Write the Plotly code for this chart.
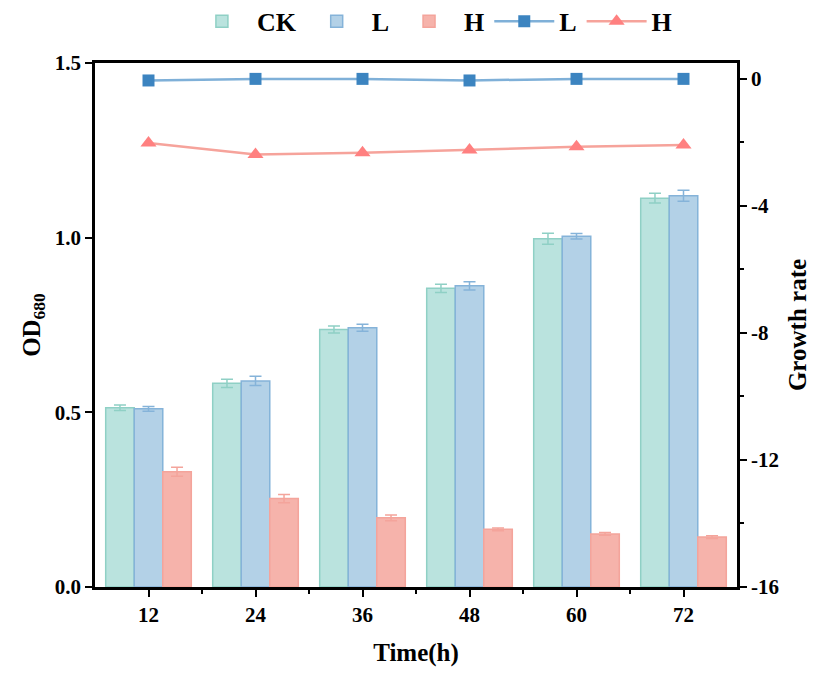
import plotly.graph_objects as go

times = [12, 24, 36, 48, 60, 72]
ck_od = [0.513, 0.583, 0.737, 0.855, 0.997, 1.113]
ck_err = [0.008, 0.012, 0.010, 0.012, 0.016, 0.014]
l_od = [0.510, 0.590, 0.742, 0.862, 1.004, 1.120]
l_err = [0.007, 0.013, 0.010, 0.012, 0.008, 0.016]
h_od = [0.330, 0.253, 0.198, 0.165, 0.152, 0.143]
h_err = [0.013, 0.012, 0.008, 0.004, 0.004, 0.004]
l_rate = [-0.05, 0.0, 0.0, -0.05, 0.0, 0.0]
h_rate = [-2.02, -2.38, -2.33, -2.24, -2.14, -2.08]

FONT = "Liberation Serif"

fig = go.Figure()
bar_specs = [
    ("CK", ck_od, ck_err, "#BAE3DE", "#8FD0C5"),
    ("L", l_od, l_err, "#B3D1E7", "#85B3D9"),
    ("H", h_od, h_err, "#F6B3AB", "#F4A49B"),
]
for name, vals, errs, fill, edge in bar_specs:
    fig.add_trace(go.Bar(
        x=times, y=vals, name=name,
        marker=dict(color=fill, line=dict(color=edge, width=1.5)),
        error_y=dict(type="data", array=errs, color=edge, thickness=1.5, width=6),
        yaxis="y",
    ))

fig.add_trace(go.Scatter(
    x=times, y=l_rate, name="L", mode="lines+markers", yaxis="y2",
    line=dict(color="#7FB0D8", width=2.5),
    marker=dict(symbol="square", size=12, color="#3C84C0"),
))
fig.add_trace(go.Scatter(
    x=times, y=h_rate, name="H", mode="lines+markers", yaxis="y2",
    line=dict(color="#F6A39B", width=2.5),
    marker=dict(symbol="triangle-up", size=14, color="#FF8080"),
))

tickfont = dict(family=FONT, size=21, color="black")
titlefont = dict(family=FONT, size=25, color="black")

fig.update_layout(
    width=809, height=664,
    margin=dict(l=87, r=80, t=55, b=85, autoexpand=False),
    paper_bgcolor="white", plot_bgcolor="white",
    barmode="group", bargap=0.2, bargroupgap=0,
    font=dict(family=FONT, color="black"),
    legend=dict(
        orientation="h", xref="container", x=0.524, xanchor="center",
        yref="container", y=0.98, yanchor="middle",
        font=dict(family=FONT, size=26, color="black", weight="bold"),
        itemwidth=60, traceorder="normal",
    ),
    xaxis=dict(
        range=[6, 78], tickmode="array", tickvals=times,
        ticktext=[f"<b>{t}</b>" for t in times],
        ticks="outside", ticklen=7, tickwidth=2, tickcolor="black",
        minor=dict(tickmode="array", tickvals=[18, 30, 42, 54, 66], ticks="outside", ticklen=4, tickwidth=2, tickcolor="black"),
        showline=True, linecolor="black", linewidth=2.5, mirror=True,
        showgrid=False, zeroline=False, automargin=False,
        tickfont=tickfont,
        title=dict(text="<b>Time(h)</b>", font=titlefont, standoff=18),
    ),
    yaxis=dict(
        range=[0, 1.5], tickmode="array", tickvals=[0, 0.5, 1.0, 1.5],
        ticktext=["<b>0.0</b>", "<b>0.5</b>", "<b>1.0</b>", "<b>1.5</b>"],
        ticks="outside", ticklen=7, tickwidth=2, tickcolor="black",
        showline=True, linecolor="black", linewidth=2.5,
        showgrid=False, zeroline=False, automargin=False,
        tickfont=tickfont,
        title=dict(text="<b>OD<sub>680</sub></b>", font=titlefont, standoff=8),
    ),
    yaxis2=dict(
        overlaying="y", side="right", range=[-16, 0.5],
        tickmode="array", tickvals=[-16, -12, -8, -4, 0],
        ticktext=["<b>-16</b>", "<b>-12</b>", "<b>-8</b>", "<b>-4</b>", "<b>0</b>"],
        ticks="outside", ticklen=7, tickwidth=2, tickcolor="black",
        minor=dict(tickmode="array", tickvals=[-14, -10, -6, -2], ticks="outside", ticklen=4, tickwidth=2, tickcolor="black"),
        showline=True, linecolor="black", linewidth=2.5,
        showgrid=False, zeroline=False, automargin=False,
        tickfont=tickfont,
        title=dict(text="<b>Growth rate</b>", font=titlefont, standoff=11),
    ),
)

fig.write_html("out.html")
